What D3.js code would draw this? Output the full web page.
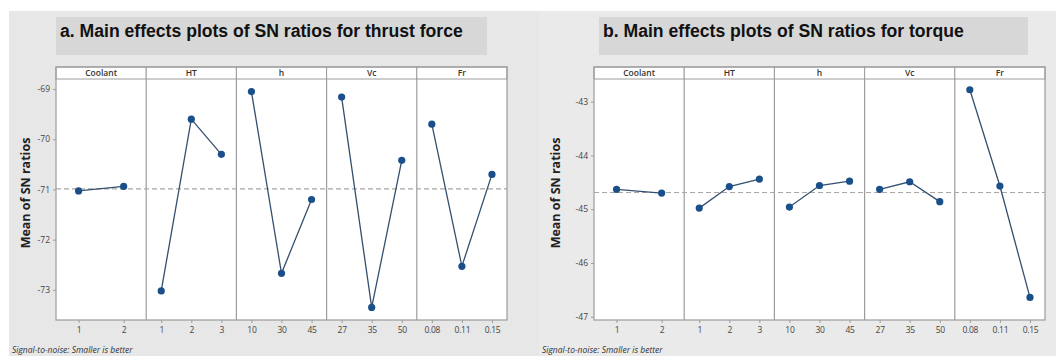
<!DOCTYPE html>
<html>
<head>
<meta charset="utf-8">
<script src="https://cdn.jsdelivr.net/npm/d3@7"></script>
<style>
  body { margin: 0; background: #ffffff; }
  svg { display: block; }
</style>
</head>
<body>
<script>
// ---- data ----
var factors = ["Coolant", "HT", "h", "Vc", "Fr"];
var levels = [["1", "2"], ["1", "2", "3"], ["10", "30", "45"], ["27", "35", "50"], ["0.08", "0.11", "0.15"]];

// mean of SN ratios, thrust force
var thrustSN = [
  [-71.03, -70.94],
  [-73.02, -69.60, -70.30],
  [-69.05, -72.67, -71.20],
  [-69.16, -73.35, -70.42],
  [-69.70, -72.53, -70.70]
];
var thrustMean = -70.99;
var thrustTicks = [-69, -70, -71, -72, -73];

// mean of SN ratios, torque
var torqueSN = [
  [-44.63, -44.70],
  [-44.98, -44.58, -44.44],
  [-44.96, -44.56, -44.48],
  [-44.63, -44.49, -44.86],
  [-42.78, -44.57, -46.64]
];
var torqueMean = -44.69;
var torqueTicks = [-43, -44, -45, -46, -47];

var W = 1056, H = 356;

var svg = d3.select("body").append("svg")
    .attr("width", W)
    .attr("height", H);

// draws one minitab style main effects chart
function drawPanel(opt) {
    var g = svg.append("g");

    // gray background of the panel
    g.append("rect")
        .attr("x", opt.bgX).attr("y", 11)
        .attr("width", opt.bgW).attr("height", H - 11)
        .attr("fill", opt.bgFill);

    // title box
    g.append("rect")
        .attr("x", opt.titleX).attr("y", 17)
        .attr("width", opt.titleW).attr("height", 38)
        .attr("fill", "#d7d7d7");
    g.append("text")
        .text(opt.title)
        .attr("x", opt.titleX + 4).attr("y", 37)
        .attr("font-family", "Liberation Sans, Arial, sans-serif")
        .attr("font-weight", "bold")
        .attr("font-size", "17.6px")
        .attr("fill", "#111");

    var left = opt.plotX, right = opt.plotX + opt.plotW;
    var top = 67, stripB = 79, bottom = 320;

    var y = d3.scaleLinear().domain(opt.yDomain).range([bottom, stripB]);
    var xPanel = d3.scaleBand().domain(factors).range([left, right]);

    // plot area
    g.append("rect")
        .attr("x", left).attr("y", top)
        .attr("width", opt.plotW).attr("height", bottom - top)
        .attr("fill", "#fff");

    // strip headers
    g.selectAll("rect.strip")
        .data(factors)
        .join("rect")
        .attr("class", "strip")
        .attr("x", function(d) { return xPanel(d); })
        .attr("y", top)
        .attr("width", xPanel.bandwidth())
        .attr("height", stripB - top)
        .attr("fill", "#fff")
        .attr("stroke", "#9c9c9c")
        .attr("stroke-width", 1);
    g.selectAll("text.strip")
        .data(factors)
        .join("text")
        .attr("class", "strip")
        .text(function(d) { return d; })
        .attr("x", function(d) { return xPanel(d) + xPanel.bandwidth() / 2; })
        .attr("y", stripB - 3)
        .attr("text-anchor", "middle")
        .attr("font-family", "Open Sans, sans-serif")
        .attr("font-weight", "600")
        .attr("font-size", "8.5px")
        .attr("fill", "#333");

    // panel dividers + border
    g.selectAll("line.div")
        .data(factors.slice(1))
        .join("line")
        .attr("class", "div")
        .attr("x1", function(d) { return xPanel(d); })
        .attr("x2", function(d) { return xPanel(d); })
        .attr("y1", stripB).attr("y2", bottom)
        .attr("stroke", "#9c9c9c").attr("stroke-width", 1.2);
    g.append("rect")
        .attr("x", left).attr("y", top)
        .attr("width", opt.plotW).attr("height", bottom - top)
        .attr("fill", "none")
        .attr("stroke", "#9c9c9c").attr("stroke-width", 1.2);

    // reference line at overall mean
    g.append("line")
        .attr("x1", left).attr("x2", right)
        .attr("y1", y(opt.mean)).attr("y2", y(opt.mean))
        .attr("stroke", "#a8a8a8")
        .attr("stroke-width", 1.2)
        .attr("stroke-dasharray", "5,3");

    // y axis
    var yAxis = g.append("g")
        .attr("transform", "translate(" + left + ",0)")
        .call(d3.axisLeft(y).tickValues(opt.ticks).tickSize(3).tickFormat(d3.format("d")));
    yAxis.select(".domain").remove();
    yAxis.selectAll("line").attr("stroke", "#9c9c9c");
    yAxis.selectAll("text")
        .attr("font-family", "Open Sans, sans-serif")
        .attr("font-size", "8.5px")
        .attr("fill", "#444")
        .text(function(d) { return "-" + Math.abs(d); });

    g.append("text")
        .text("Mean of SN ratios")
        .attr("transform", "translate(" + (opt.bgX + 21) + ",193) rotate(-90)")
        .attr("text-anchor", "middle")
        .attr("font-family", "Open Sans, sans-serif")
        .attr("font-weight", "bold")
        .attr("font-size", "12.5px")
        .attr("fill", "#222");

    // each factor: x axis + line + points
    factors.forEach(function(f, i) {
        var x = d3.scalePoint().domain(levels[i])
            .range([xPanel(f), xPanel(f) + xPanel.bandwidth()])
            .padding(0.5);

        var xa = g.append("g")
            .attr("transform", "translate(0," + bottom + ")")
            .call(d3.axisBottom(x).tickSize(3).tickPadding(4));
        xa.select(".domain").remove();
        xa.selectAll("line").attr("stroke", "#9c9c9c");
        xa.selectAll("text")
            .attr("font-family", "Open Sans, sans-serif")
            .attr("font-size", "8.5px")
            .attr("letter-spacing", "-0.3px")
            .attr("fill", "#444");

        var pts = levels[i].map(function(l, j) { return { lv: l, v: opt.values[i][j] }; });

        g.append("path")
            .datum(pts)
            .attr("d", d3.line()
                .x(function(d) { return x(d.lv); })
                .y(function(d) { return y(d.v); }))
            .attr("fill", "none")
            .attr("stroke", "#34506e")
            .attr("stroke-width", 1.3);

        g.selectAll("circle.p" + i)
            .data(pts)
            .join("circle")
            .attr("class", "p" + i)
            .attr("cx", function(d) { return x(d.lv); })
            .attr("cy", function(d) { return y(d.v); })
            .attr("r", 3.6)
            .attr("fill", "#1b4f8a");
    });

    // footer
    g.append("text")
        .text("Signal-to-noise: Smaller is better")
        .attr("x", opt.bgX + 3).attr("y", 353)
        .attr("font-family", "Open Sans, sans-serif")
        .attr("font-style", "italic")
        .attr("font-size", "8.5px")
        .attr("fill", "#333");
}

drawPanel({
    bgX: 9, bgW: 530, bgFill: "#e7e7e7",
    titleX: 56, titleW: 431,
    title: "a. Main effects plots of SN ratios for thrust force",
    plotX: 56, plotW: 451,
    yDomain: [-73.6, -68.8],
    ticks: thrustTicks,
    values: thrustSN,
    mean: thrustMean
});

drawPanel({
    bgX: 539, bgW: 517, bgFill: "#eaeaea",
    titleX: 599, titleW: 429,
    title: "b. Main effects plots of SN ratios for torque",
    plotX: 594, plotW: 451,
    yDomain: [-47.06, -42.58],
    ticks: torqueTicks,
    values: torqueSN,
    mean: torqueMean
});
</script>
</body>
</html>
